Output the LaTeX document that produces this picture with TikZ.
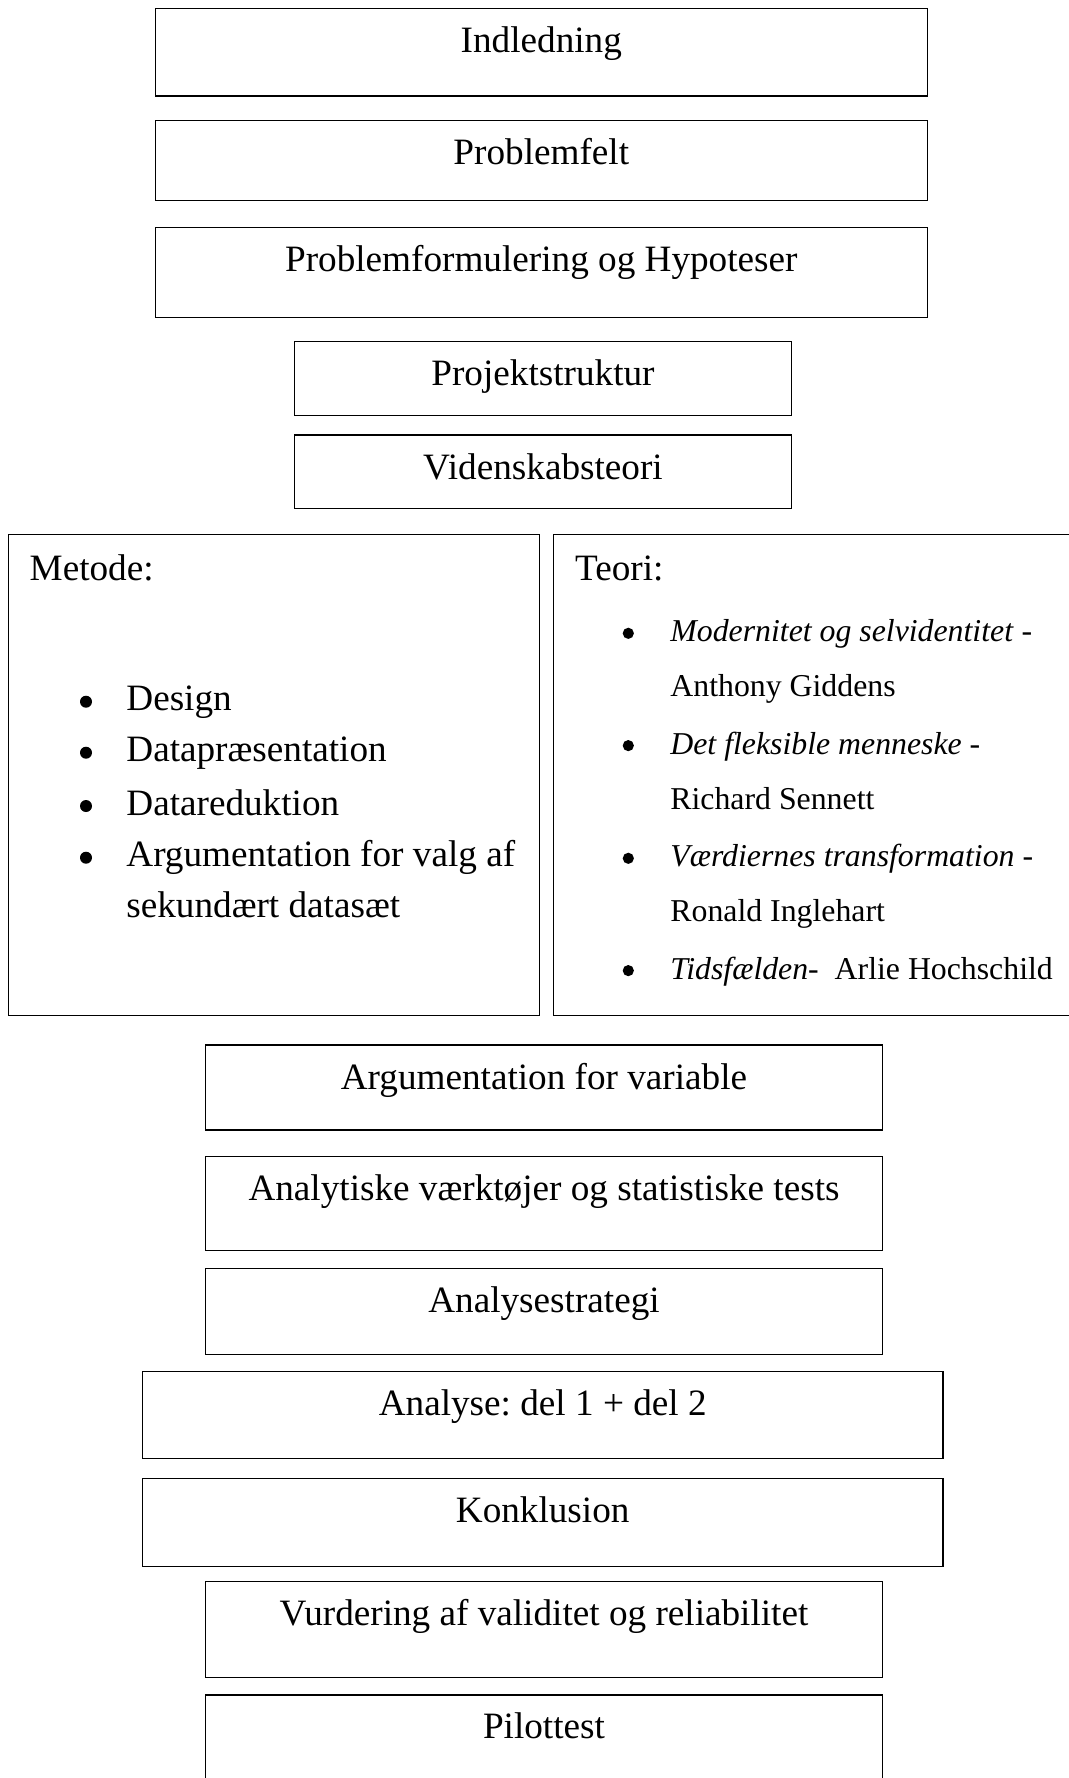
\documentclass[tikz,border=0pt]{standalone}
\usepackage{fontspec}
\setmainfont{Liberation Serif}
\usepackage{tikz}
\frenchspacing

\tikzset{
  box/.style={draw, line width=0.6pt, inner sep=0pt, anchor=north, text height=22pt,
    font=\fontsize{18.6pt}{26pt}\selectfont},
  panel/.style={draw, line width=0.75pt, inner sep=0pt},
  item/.style={anchor=base west, inner sep=0pt, font=\fontsize{18.6pt}{26pt}\selectfont},
  ref/.style={anchor=base west, inner sep=0pt, font=\fontsize{15.9pt}{22pt}\selectfont},
  dot/.style={circle, fill, inner sep=0pt, minimum size=6pt},
}

\begin{document}
\begin{tikzpicture}[x=0.5pt, y=-0.5pt]
        \clip (0,0) rectangle (1069,1778);
        % top boxes
        \node[box, minimum width=385.9pt, text depth=21.8pt] (ind) at (541.3,7.7) {Indledning};
        \node[box, minimum width=385.9pt, text depth=18pt] (felt) at (541.3,119.8) {Problemfelt};
        \node[box, minimum width=385.9pt, text depth=23.1pt] (form) at (541.3,227) {Problemformulering og Hypoteser};
        \node[box, minimum width=248.5pt, text depth=14.75pt] (struk) at (543,341) {Projektstruktur};
        \node[box, line width=0.75pt, minimum width=248.5pt, text depth=14.55pt] (vid) at (543,434.4) {Videnskabsteori};

        % Metode and Teori
        \node[panel, minimum width=265.5pt, minimum height=240.5pt] (metode) at (273.8,774.9) {};
        \node[panel, minimum width=263.35pt, minimum height=240.5pt] (teori) at (816.65,774.9) {};

        \node[item] (metlbl) at (29.3,580) {Metode:};
        \node[dot] (m1) at (86,701.7) {};
        \node[item] (design) at (126,710.7) {Design};
        \node[dot] (m2) at (86,752.7) {};
        \node[item] (praes) at (126,761.7) {Datapræsentation};
        \node[dot] (m3) at (86,806) {};
        \node[item] (red) at (126,815) {Datareduktion};
        \node[dot] (m4) at (86,857.7) {};
        \node[item] (valg) at (126,866.7) {Argumentation for valg af};
        \node[item] (valg2) at (126,917.7) {sekundært datasæt};

        \node[item] (teolbl) at (574.7,580) {Teori:};
        \node[dot, minimum size=5.6pt] (t1) at (628.3,633.3) {};
        \node[ref] (gid) at (670,641.7) {\textit{Modernitet og selvidentitet} -};
        \node[ref] (gid2) at (670,696.7) {Anthony Giddens};
        \node[dot, minimum size=5.6pt] (t2) at (628.3,745.6) {};
        \node[ref] (sen) at (670,754) {\textit{Det fleksible menneske} -};
        \node[ref] (sen2) at (670,809.3) {Richard Sennett};
        \node[dot, minimum size=5.6pt] (t3) at (628.3,858.3) {};
        \node[ref] (ing) at (670,866.7) {\textit{Værdiernes transformation} -};
        \node[ref] (ing2) at (670,921.7) {Ronald Inglehart};
        \node[dot, minimum size=5.6pt] (t4) at (628.3,970.6) {};
        \node[ref] (hoch) at (670,979) {\textit{Tidsfælden}-~~Arlie Hochschild};

        % lower boxes
        \node[box, minimum width=338.2pt, text depth=20.5pt] (var) at (544,1044.4) {Argumentation for variable};
        \node[box, minimum width=338.2pt, text depth=24.9pt] (tests) at (544,1156.2) {Analytiske værktøjer og statistiske tests};
        \node[box, minimum width=338.2pt, text depth=21pt] (strat) at (544,1267.8) {Analysestrategi};
        \node[box, minimum width=400.2pt, text depth=21.65pt] (ana) at (542.7,1370.7) {Analyse: del 1 + del 2};
        \node[box, minimum width=400.2pt, text depth=22.1pt] (konk) at (542.7,1477.5) {Konklusion};
        \node[box, minimum width=338.2pt, text depth=26pt] (vur) at (544,1580.7) {Vurdering af validitet og reliabilitet};
        \node[box, minimum width=338.2pt, text depth=28pt] (pilot) at (544,1694.3) {Pilottest};
\end{tikzpicture}
\end{document}
